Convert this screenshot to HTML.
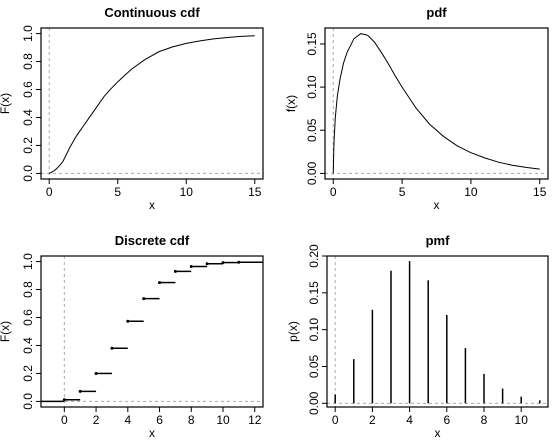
<!DOCTYPE html>
<html><head><meta charset="utf-8"><style>
html,body{margin:0;padding:0;background:#fff}
svg{display:block;font-family:"Liberation Sans",Arial,sans-serif}
</style></head><body>
<svg id="s" width="560" height="440"></svg>
<script>
const cdfX=[0,0.25,0.5,0.75,1,1.25,1.5,2,2.5,3,3.5,4,4.5,5,5.5,6,7,8,9,10,11,12,13,14,15];
const cdfY=[0,0.012,0.03,0.055,0.085,0.135,0.185,0.27,0.34,0.41,0.48,0.55,0.605,0.655,0.7,0.745,0.815,0.87,0.905,0.93,0.948,0.962,0.972,0.98,0.985];
const pdfX=[0,0.05,0.15,0.3,0.5,0.75,1,1.5,2,2.5,3,3.5,4,4.5,5,6,7,8,9,10,11,12,13,14,15];
const pdfY=[0,0.035,0.065,0.09,0.11,0.128,0.14,0.156,0.162,0.16,0.152,0.14,0.127,0.113,0.1,0.076,0.057,0.043,0.032,0.024,0.018,0.013,0.0095,0.007,0.005];
const pmfX=[0,1,2,3,4,5,6,7,8,9,10,11];
const pmfY=[0.012,0.06,0.127,0.18,0.193,0.167,0.12,0.075,0.04,0.02,0.009,0.004];
const stepY=[0.012,0.072,0.2,0.38,0.573,0.735,0.85,0.93,0.965,0.985,0.993,0.995];
const xt1=[0,5,10,15], yt1=[0,0.2,0.4,0.6,0.8,1.0], yl1=["0.0","0.2","0.4","0.6","0.8","1.0"];
const yt2=[0,0.05,0.1,0.15], yl2=["0.00","0.05","0.10","0.15"];
const xt3=[0,2,4,6,8,10,12];
const xt4=[0,2,4,6,8,10], yt4=[0,0.05,0.1,0.15,0.2], yl4=["0.00","0.05","0.10","0.15","0.20"];
const svg=document.getElementById('s');const NS="http://www.w3.org/2000/svg";
function el(t,a,txt){const e=document.createElementNS(NS,t);for(const k in a)e.setAttribute(k,a[k]);if(txt!==undefined)e.textContent=txt;svg.appendChild(e);return e;}
function panel(p){
  const sx=v=>p.L+(v-p.x0)/(p.x1-p.x0)*(p.R-p.L), sy=v=>p.B-(v-p.y0)/(p.y1-p.y0)*(p.B-p.T);
  p.sx=sx;p.sy=sy;
  let e=el('text',{x:(p.L+p.R)/2,y:p.T-11,'text-anchor':'middle','font-size':13,'font-weight':'bold'},p.title);
  
  e=el('line',{x1:sx(0),x2:sx(0),y1:p.T,y2:p.B,stroke:'#aaa','stroke-dasharray':'3,3'});
  
  e=el('line',{x1:p.L,x2:p.R,y1:sy(0),y2:sy(0),stroke:'#aaa','stroke-dasharray':'3,3'});
  
  p.xt.forEach(v=>{el('line',{x1:sx(v),x2:sx(v),y1:p.B,y2:p.B+5,stroke:'#000'});
    e=el('text',{x:sx(v),y:p.B+17,'text-anchor':'middle','font-size':12},String(v));
    });
  el('line',{x1:sx(p.xt[0]),x2:sx(p.xt[p.xt.length-1]),y1:p.B,y2:p.B,stroke:'#000'});
  p.yt.forEach((v,i)=>{el('line',{x1:p.L,x2:p.L-5,y1:sy(v),y2:sy(v),stroke:'#000'});
    const x=p.L-9,y=sy(v);
    e=el('text',{x:x,y:y,'text-anchor':'middle','font-size':12,transform:`rotate(-90 ${x} ${y})`},p.yl[i]);
    });
  el('line',{x1:p.L,x2:p.L,y1:sy(p.yt[0]),y2:sy(p.yt[p.yt.length-1]),stroke:'#000'});
  e=el('text',{x:(p.L+p.R)/2,y:p.B+30,'text-anchor':'middle','font-size':12},'x');
  
  const yx=p.L-p.yo,yy=(p.T+p.B)/2;
  e=el('text',{x:yx,y:yy,'text-anchor':'middle','font-size':12,transform:`rotate(-90 ${yx} ${yy})`},p.ylab);
  
  e=el('rect',{x:p.L,y:p.T,width:p.R-p.L,height:p.B-p.T,fill:'none',stroke:'#000','stroke-width':1.2});
  
  return p;
}
let p=panel({id:'cdf',title:'Continuous cdf',ylab:'F(x)',yo:32,L:41,R:263,T:28,B:179,x0:-0.6,x1:15.6,y0:-0.04,y1:1.04,xt:xt1,yt:yt1,yl:yl1});
let e=el('polyline',{points:cdfX.map((x,i)=>p.sx(x)+','+p.sy(cdfY[i])).join(' '),fill:'none',stroke:'#000','stroke-width':1});

p=panel({id:'pdf',title:'pdf',ylab:'f(x)',yo:30,L:325,R:548,T:28,B:179,x0:-0.6,x1:15.6,y0:-0.00648,y1:0.16848,xt:xt1,yt:yt2,yl:yl2});
e=el('polyline',{points:pdfX.map((x,i)=>p.sx(x)+','+p.sy(pdfY[i])).join(' '),fill:'none',stroke:'#000','stroke-width':1});

p=panel({id:'dcdf',title:'Discrete cdf',ylab:'F(x)',yo:32,L:41,R:263,T:256,B:407,x0:-1.47,x1:12.52,y0:-0.04,y1:1.04,xt:xt3,yt:yt1,yl:yl1});
e=el('line',{x1:p.L,x2:p.sx(0),y1:p.sy(0),y2:p.sy(0),stroke:'#000','stroke-width':1.5});

stepY.forEach((v,i)=>{const x2=i===stepY.length-1?p.R:p.sx(i+1);
  let s=el('line',{x1:p.sx(i),x2:x2,y1:p.sy(v),y2:p.sy(v),stroke:'#000','stroke-width':1.5});
  
  s=el('circle',{cx:p.sx(i),cy:p.sy(v),r:1.5,fill:'#000'});
  });
p=panel({id:'pmf',title:'pmf',ylab:'p(x)',yo:30,L:327,R:548,T:256,B:407,x0:-0.44,x1:11.44,y0:-0.005,y1:0.2,xt:xt4,yt:yt4,yl:yl4});
pmfX.forEach((x,i)=>{const s=el('line',{x1:p.sx(x),x2:p.sx(x),y1:p.sy(0),y2:p.sy(pmfY[i]),stroke:'#000','stroke-width':1.5});
  });
</script>
</body></html>
